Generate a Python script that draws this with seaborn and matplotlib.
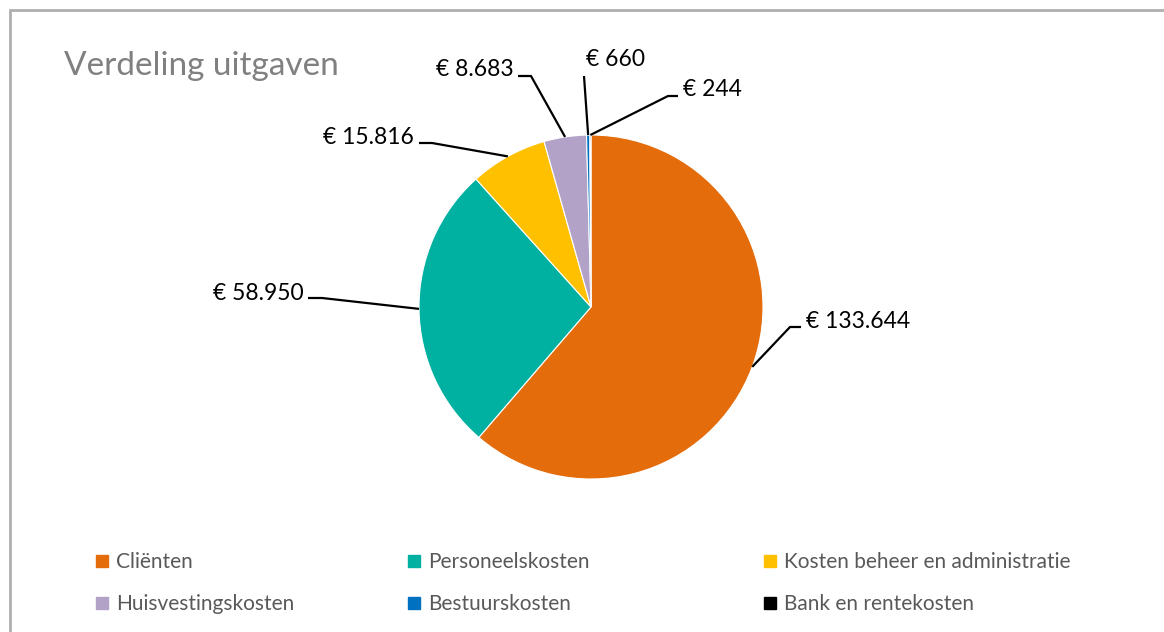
'''
Verdeling uitgaven - pie chart with leader-line labels
'''

#%% imports
import numpy as np
import matplotlib.pyplot as plt
from matplotlib.patches import Rectangle
from matplotlib.lines import Line2D
import seaborn as sns
sns.set_theme(style='white')
plt.rcParams['font.family'] = ['Lato', 'DejaVu Sans']

#%% data
categories = ['Cliënten', 'Personeelskosten', 'Kosten beheer en administratie',
              'Huisvestingskosten', 'Bestuurskosten', 'Bank en rentekosten']
amounts = [133644, 58950, 15816, 8683, 660, 244]
value_labels = ['€ 133.644', '€ 58.950', '€ 15.816', '€ 8.683', '€ 660', '€ 244']
colors = sns.color_palette(['#E46C0A', '#00B0A0', '#FFC000', '#B3A2C7', '#0070C0', '#000000'])

#%% layout (pixel coords, y measured from the top of the image)
W, H = 1164, 632
pie_center = (591, 307)
pie_radius = 172
# (text x, text y, ha, elbow x, elbow y, horizontal stub end x)
label_layout = [
    (806, 322, 'left', 790, 327, 801),
    (304, 294, 'right', 322, 298, 308),
    (414, 137, 'right', 432, 143, 419),
    (514, 70, 'right', 531, 76, 518),
    (586, 60, 'left', 584, 76, 584),
    (683, 89, 'left', 668, 96, 678),
]

def up(y):
    return H - y

#%% plot
fig = plt.figure(figsize=(W / 100, H / 100), dpi=100)
ax = fig.add_axes([0, 0, 1, 1])

wedges, _ = ax.pie(amounts, colors=colors, startangle=90, counterclock=False,
                   center=(pie_center[0], up(pie_center[1])), radius=pie_radius,
                   wedgeprops=dict(linewidth=0.8, edgecolor='white'), frame=True)
ax.set_xlim(0, W)
ax.set_ylim(0, H)
ax.set_aspect('auto')
ax.axis('off')

# data labels with leader lines
for w, lab, (tx, ty, ha, ex, ey, sx) in zip(wedges, value_labels, label_layout):
    mid = np.deg2rad((w.theta1 + w.theta2) / 2)
    px = pie_center[0] + pie_radius * np.cos(mid)
    py = up(pie_center[1]) + pie_radius * np.sin(mid)
    ax.plot([px, ex, sx], [py, up(ey), up(ey)], color='black', lw=1.6,
            solid_capstyle='butt', zorder=3)
    ax.text(tx, up(ty), lab, ha=ha, va='center', fontsize=16.5, color='black')

# title
ax.text(64, up(66), 'Verdeling uitgaven', ha='left', va='center',
        fontsize=24, color='#808080')

# chart border
ax.add_patch(Rectangle((10, -20), W + 20, up(10) + 20, fill=False,
                       edgecolor='#AFAFAF', lw=2, clip_on=False))

# legend: three columns, two rows
legend_cols = [(95, [0, 3]), (407, [1, 4]), (763, [2, 5])]
for x0, idx in legend_cols:
    handles = [Line2D([0], [0], marker='s', linestyle='', markersize=9,
                      markerfacecolor=colors[i], markeredgecolor=colors[i]) for i in idx]
    fig.legend(handles, [categories[i] for i in idx], loc='upper left',
               bbox_to_anchor=(x0 / W, up(552) / H), frameon=False,
               fontsize=15, labelcolor='#595959', handlelength=0.7,
               handletextpad=0.3, labelspacing=1.05, borderaxespad=0,
               borderpad=0)

fig.savefig('out.png', dpi=100)
